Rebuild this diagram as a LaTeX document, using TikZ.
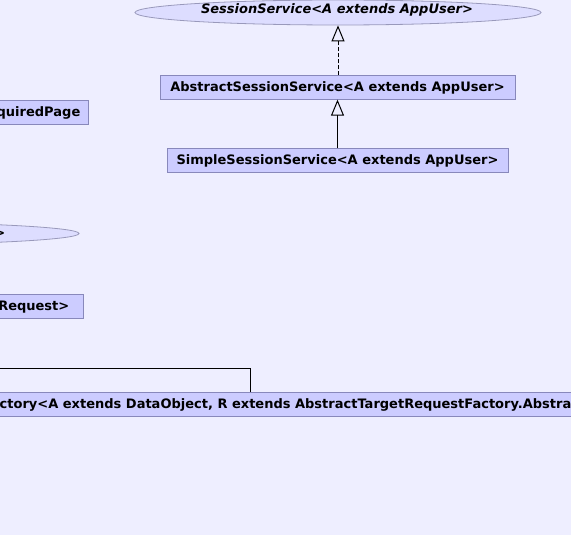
\documentclass[tikz,border=0pt]{standalone}
\usepackage{fontspec}
\setmainfont{DejaVu Sans}
\usetikzlibrary{shapes.geometric,arrows.meta}
\definecolor{bg}{RGB}{238,238,255}
\definecolor{boxfill}{RGB}{204,204,255}
\definecolor{boxline}{RGB}{136,136,187}
\definecolor{ellfill}{RGB}{221,221,255}
\definecolor{ellline}{RGB}{153,153,187}
\tikzset{
  every node/.style={font=\fontsize{13}{15}\selectfont\bfseries, text=black, inner sep=0pt},
  cls/.style={draw=boxline, fill=boxfill, line width=0.8pt},
  iface/.style={ellipse, draw=ellline, fill=ellfill, line width=0.8pt},
  inh/.style={-{Triangle[open, width=13pt, length=16pt]}, line width=1pt, black},
  impl/.style={inh, dash pattern=on 4pt off 2pt},
}
\begin{document}
\begin{tikzpicture}[x=1pt,y=-1pt]
\useasboundingbox (0,0) rectangle (571,535);
\fill[bg] (0,0) rectangle (571,535);
\clip (0,0) rectangle (571,535);
% top interface
\node[iface, minimum width=406pt, minimum height=25pt] (ss) at (338,12.5) {};
\node[font=\fontsize{13}{15}\selectfont\bfseries\itshape] (sst) at (337,10) {SessionService<A extends AppUser>};
% abstract session service
\node[cls, minimum width=355pt, minimum height=23.5pt] (ass) at (337.5,87.5) {};
\node (asst) at (337.5,88) {AbstractSessionService<A extends AppUser>};
% simple session service
\node[cls, minimum width=341pt, minimum height=23.5pt] (sss) at (337.5,160.5) {};
\node (ssst) at (337.5,161) {SimpleSessionService<A extends AppUser>};
% left partial nodes
\node[cls, anchor=east, minimum width=120pt, minimum height=23.5pt] (rp) at (89,112.5) {};
\node[anchor=east] (rpt) at (80.5,113) {quiredPage};
\node[iface, minimum width=458pt, minimum height=23pt] (le) at (-150,233.5) {};
\node[anchor=east] (let) at (5.5,234) {>};
\node[cls, anchor=east, minimum width=120pt, minimum height=23.5pt] (rq) at (84,306.5) {};
\node[anchor=east] (rqt) at (69.5,307) {Request>};
\node[cls, anchor=west, minimum width=620pt, minimum height=23.5pt] (fac) at (-10,404.5) {};
\node[anchor=west] (fact) at (-0.5,405) {ctory<A extends DataObject, R extends AbstractTargetRequestFactory.Abstra};
\coordinate (lineleft) at (0,368);
\coordinate (corner) at (250.5,368);
% connectors
\draw[impl] (ass.north -| ss.south) -- (ss.south);
\draw[inh] (sss.north) -- (ass.south);
\draw[line width=1pt] (lineleft) -- (corner) -- (corner |- fac.north);
\end{tikzpicture}
\end{document}
